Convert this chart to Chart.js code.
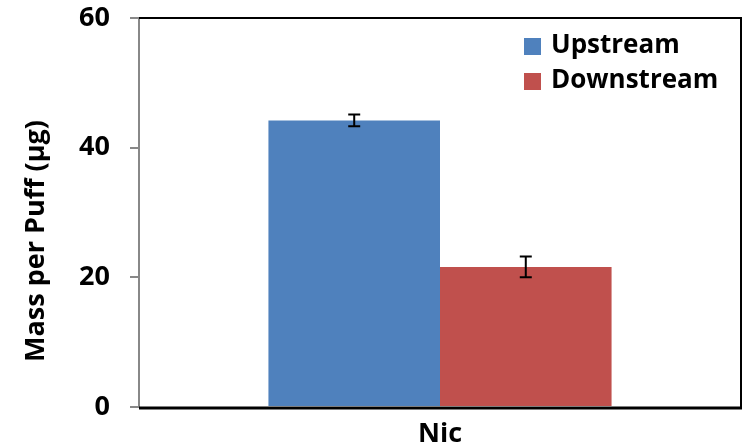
<!DOCTYPE html>
<html><head><meta charset="utf-8">
<script src="https://cdn.jsdelivr.net/npm/chart.js@4"></script>
<style>html,body{margin:0;padding:0;background:#fff;} canvas{display:block}</style>
</head><body>
<canvas id="c" width="744" height="447"></canvas>
<script>
const categories = ['Nic'];
const seriesNames = ['Upstream', 'Downstream'];
const upstreamValues = [44.2];
const downstreamValues = [21.6];
const upstreamErrors = [0.9];
const downstreamErrors = [1.6];
const yTicks = [0, 20, 40, 60];
const yTitle = 'Mass per Puff (µg)';

const FONT = '"Open Sans", sans-serif';

const errorBars = {
  id: 'errorBars',
  afterDatasetsDraw(chart) {
    const ctx = chart.ctx, y = chart.scales.y;
    chart.data.datasets.forEach((ds, di) => {
      const meta = chart.getDatasetMeta(di);
      meta.data.forEach((bar, i) => {
        const v = ds.data[i], e = ds.errors[i];
        const yt = y.getPixelForValue(v + e), yb = y.getPixelForValue(v - e);
        ctx.save();
        ctx.strokeStyle = '#000'; ctx.lineWidth = 2;
        ctx.beginPath();
        ctx.moveTo(bar.x, yt); ctx.lineTo(bar.x, yb);
        ctx.moveTo(bar.x - 6, yt); ctx.lineTo(bar.x + 6, yt);
        ctx.moveTo(bar.x - 6, yb); ctx.lineTo(bar.x + 6, yb);
        ctx.stroke();
        ctx.restore();
      });
    });
  }
};

const frame = {
  id: 'frame',
  afterDatasetsDraw(chart) {
    const ctx = chart.ctx, a = chart.chartArea;
    ctx.save();
    ctx.strokeStyle = '#000';
    ctx.lineWidth = 2;
    ctx.beginPath();
    ctx.moveTo(a.left, a.top); ctx.lineTo(a.right, a.top); ctx.lineTo(a.right, a.bottom + 1);
    ctx.stroke();
    ctx.lineWidth = 3;
    ctx.beginPath();
    ctx.moveTo(a.left, a.bottom + 1); ctx.lineTo(a.right + 1, a.bottom + 1);
    ctx.stroke();
    ctx.restore();
  }
};

const yTitlePlugin = {
  id: 'yTitlePlugin',
  afterDraw(chart) {
    const ctx = chart.ctx;
    ctx.save();
    ctx.translate(36, 241);
    ctx.rotate(-Math.PI / 2);
    ctx.font = 'bold 27px ' + FONT;
    ctx.fillStyle = '#000';
    ctx.textAlign = 'center';
    ctx.textBaseline = 'middle';
    ctx.fillText(yTitle, 0, 0);
    ctx.restore();
  }
};

const legendPlugin = {
  id: 'legendPlugin',
  afterDraw(chart) {
    const ctx = chart.ctx;
    ctx.save();
    chart.data.datasets.forEach((ds, i) => {
      const top = 38 + 35 * i;
      ctx.fillStyle = ds.backgroundColor;
      ctx.fillRect(524, top, 17, 17);
      ctx.fillStyle = '#000';
      ctx.font = 'bold 26px ' + FONT;
      ctx.textAlign = 'left';
      ctx.textBaseline = 'middle';
      ctx.fillText(ds.label, 551, top + 8);
    });
    ctx.restore();
  }
};

new Chart(document.getElementById('c'), {
  type: 'bar',
  data: {
    labels: categories,
    datasets: [
      { label: seriesNames[0], data: upstreamValues, errors: upstreamErrors, backgroundColor: '#4F81BD' },
      { label: seriesNames[1], data: downstreamValues, errors: downstreamErrors, backgroundColor: '#C0504D' }
    ]
  },
  options: {
    responsive: false,
    animation: false,
    devicePixelRatio: 1,
    layout: { padding: { left: 0, top: 18, right: 3, bottom: 0 } },
    datasets: { bar: { categoryPercentage: 0.57, barPercentage: 1.0 } },
    plugins: { legend: { display: false }, tooltip: { enabled: false } },
    scales: {
      x: {
        grid: { display: false },
        border: { display: false },
        ticks: { color: '#000', font: { family: FONT, size: 27, weight: 'bold' }, padding: 3 },
        afterFit(s) { s.height = 40; s.paddingLeft = 0; s.paddingRight = 0; }
      },
      y: {
        min: 0, max: 60,
        afterBuildTicks(s) { s.ticks = yTicks.map(v => ({ value: v })); },
        grid: { drawOnChartArea: false, drawTicks: true, tickLength: 9, color: '#888', lineWidth: 2 },
        border: { color: '#888', width: 2 },
        ticks: { color: '#000', font: { family: FONT, size: 27, weight: 'bold' }, padding: 20 },
        afterFit(s) { s.width = 139; s.paddingTop = 0; s.paddingBottom = 0; }
      }
    }
  },
  plugins: [errorBars, frame, yTitlePlugin, legendPlugin]
});
</script>
</body></html>
